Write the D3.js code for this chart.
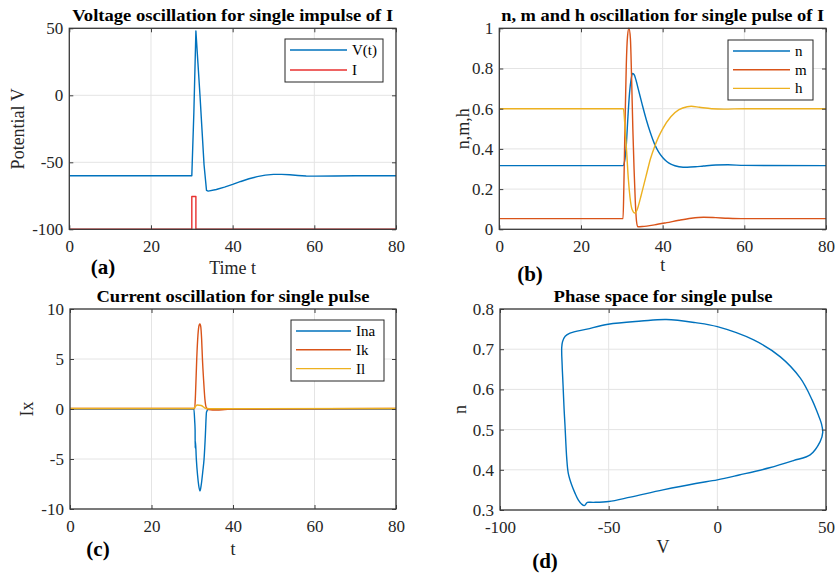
<!DOCTYPE html>
<html>
<head>
<meta charset="utf-8">
<script src="https://cdnjs.cloudflare.com/ajax/libs/d3/7.8.5/d3.min.js"></script>
<style>
  body { margin: 0; background: #fff; }
  svg { display: block; font-family: "Liberation Serif", "Times New Roman", serif; }
  svg text { font-family: "Liberation Serif", "Times New Roman", serif; }
  .grid line { stroke: #e4e4e4; stroke-width: 1; }
  .tick text { fill: #262626; }
  .tick line { stroke: #404040; }
</style>
</head>
<body>
<svg id="fig" width="837" height="574"></svg>
<script>
// ---- values ----

// (a) membrane potential and stimulus
const vTime = [0, 30, 30.5, 31.0, 31.5, 32.0, 32.5, 33.0, 33.6, 34, 36, 38, 40, 42, 44, 46, 48, 50, 52, 54, 56, 58, 60, 65, 70, 80];
const vPot  = [-60, -60, -13, 48, 24, 0, -26, -52, -71, -71.5, -70.3, -68.5, -66.5, -64.3, -62.3, -60.7, -59.6, -59, -59, -59.3, -59.8, -60.2, -60.3, -60.2, -60, -60];
const iTime = [0, 30, 30, 31, 31, 80];
const iStim = [-100, -100, -75.5, -75.5, -100, -100];

// (b) gating variables
const nTime = [0, 30.3, 30.7, 31.1, 31.5, 31.9, 32.3, 32.6, 33, 33.5, 34, 35, 36, 37, 38, 39, 40, 41, 42, 43, 44, 45, 46, 48, 50, 53, 56, 60, 80];
const nVal  = [0.317, 0.317, 0.34, 0.42, 0.56, 0.68, 0.75, 0.775, 0.77, 0.74, 0.70, 0.62, 0.545, 0.48, 0.425, 0.385, 0.357, 0.337, 0.324, 0.316, 0.311, 0.309, 0.309, 0.311, 0.315, 0.32, 0.321, 0.318, 0.317];
const mTime = [0, 30.3, 30.5, 30.8, 31.1, 31.4, 31.75, 32.1, 32.4, 32.7, 33.0, 33.3, 33.6, 33.9, 35, 38, 41, 44, 47, 50, 53, 56, 60, 80];
const mVal  = [0.053, 0.053, 0.21, 0.54, 0.82, 0.96, 1.0, 0.95, 0.75, 0.5, 0.3, 0.14, 0.04, 0.013, 0.014, 0.022, 0.033, 0.045, 0.055, 0.06, 0.058, 0.055, 0.053, 0.053];
const hTime = [0, 30.4, 30.8, 31.2, 31.6, 32.0, 32.5, 33.2, 33.8, 34.5, 35, 36, 37, 38, 39, 40, 42, 44, 46, 47, 49, 52, 55, 60, 80];
const hVal  = [0.6, 0.6, 0.5, 0.38, 0.25, 0.16, 0.1, 0.081, 0.1, 0.15, 0.19, 0.27, 0.35, 0.41, 0.46, 0.5, 0.56, 0.595, 0.61, 0.612, 0.607, 0.6, 0.598, 0.6, 0.6];

// (c) ionic currents
const inaTime = [0, 30.4, 30.6, 30.7, 30.72, 30.78, 31.0, 31.3, 31.6, 31.9, 32.2, 32.6, 32.9, 33.2, 33.5, 34, 80];
const inaVal  = [0, 0, -1.2, -2.1, -3.9, -3.2, -5.0, -6.6, -7.7, -8.2, -7.6, -6.2, -5.0, -2.8, -0.3, 0, 0];
const ikTime  = [0, 30.6, 30.8, 31.1, 31.4, 31.7, 31.9, 32.1, 32.3, 32.5, 32.8, 33.1, 33.5, 34, 36, 38, 40, 80];
const ikVal   = [0.05, 0.05, 1.5, 5, 7.4, 8.4, 8.5, 8.2, 7, 5, 2.8, 1, 0.1, -0.05, -0.1, -0.05, 0, 0.05];
const ilTime  = [0, 30.3, 31.2, 32.2, 33.4, 35, 80];
const ilVal   = [0.05, 0.05, 0.4, 0.35, 0.05, 0.03, 0.05];

// (d) phase portrait V vs n
const phV = [-60.2, -59.8, -57, -50, -40, -25, -10, 0, 10, 24, 35, 42.7, 47.3, 48.5, 47.9, 46.2, 43.6, 38.2, 29, 16.7, 0, -10, -23.5, -35, -50.2, -60, -67.8, -70, -71.2, -71.6, -71.4, -71, -70.5, -70.1, -69.3, -68.6, -67, -65.5, -64, -62.5, -61.2, -60.2];
const phN = [0.317, 0.319, 0.319, 0.321, 0.332, 0.35, 0.366, 0.375, 0.387, 0.405, 0.423, 0.437, 0.47, 0.493, 0.515, 0.54, 0.574, 0.628, 0.681, 0.723, 0.756, 0.766, 0.774, 0.77, 0.762, 0.75, 0.74, 0.732, 0.719, 0.704, 0.66, 0.612, 0.55, 0.511, 0.429, 0.392, 0.362, 0.342, 0.325, 0.315, 0.311, 0.317];

// tick values
const tTicks  = [0, 20, 40, 60, 80];
const vTicks  = [-100, -50, 0, 50];
const gTicks  = [0, 0.2, 0.4, 0.6, 0.8, 1];
const cTicks  = [-10, -5, 0, 5, 10];
const pvTicks = [-100, -50, 0, 50];
const pnTicks = [0.3, 0.4, 0.5, 0.6, 0.7, 0.8];

const BLUE = "#0072BD", ORANGE = "#D95319", YELLOW = "#EDB120", RED = "#E8312F";
const SERIF = '"Liberation Serif", "Times New Roman", serif';

const svg = d3.select("#fig");

function panel(o) {
  const g = svg.append("g");
  const x = d3.scaleLinear().domain(o.xDomain).range([o.left, o.right]);
  const y = d3.scaleLinear().domain(o.yDomain).range([o.bottom, o.top]);

  // grid
  const grid = g.append("g").attr("class", "grid");
  grid.selectAll("line.gx").data(o.xTicks).join("line").attr("class", "gx")
    .attr("x1", d => x(d)).attr("x2", d => x(d)).attr("y1", o.top).attr("y2", o.bottom);
  grid.selectAll("line.gy").data(o.yTicks).join("line").attr("class", "gy")
    .attr("y1", d => y(d)).attr("y2", d => y(d)).attr("x1", o.left).attr("x2", o.right);

  // series
  o.series.forEach(s => {
    g.append("path")
      .datum(d3.zip(s.xs, s.ys))
      .attr("fill", "none")
      .attr("stroke", s.color)
      .attr("stroke-width", 1.4)
      .attr("stroke-linejoin", "round")
      .attr("d", d3.line().x(d => x(d[0])).y(d => y(d[1])).curve(s.curve || d3.curveLinear));
  });

  // axes, ticks pointing inwards like MATLAB
  const fmt = d => String(d);
  const fixText = sel => {
    sel.attr("font-size", 17).attr("font-family", SERIF);
    sel.selectAll("text").attr("font-family", SERIF);
    sel.select(".domain").remove();
  };
  g.append("g").attr("transform", `translate(0,${o.bottom})`)
    .call(d3.axisBottom(x).tickValues(o.xTicks).tickSize(-4).tickPadding(11).tickFormat(fmt)).call(fixText);
  g.append("g").attr("transform", `translate(${o.left},0)`)
    .call(d3.axisLeft(y).tickValues(o.yTicks).tickSize(-4).tickPadding(6).tickFormat(fmt)).call(fixText);
  g.append("g").attr("transform", `translate(0,${o.top})`)
    .call(d3.axisTop(x).tickValues(o.xTicks).tickSize(-4).tickFormat("")).call(fixText);
  g.append("g").attr("transform", `translate(${o.right},0)`)
    .call(d3.axisRight(y).tickValues(o.yTicks).tickSize(-4).tickFormat("")).call(fixText);

  g.append("rect")
    .attr("x", o.left).attr("y", o.top)
    .attr("width", o.right - o.left).attr("height", o.bottom - o.top)
    .attr("fill", "none").attr("stroke", "#3a3a3a").attr("stroke-width", 1.3);

  // title (the source figure is slightly stretched sideways)
  g.append("text")
    .attr("x", (o.left + o.right) / 2).attr("y", o.top - 7.5)
    .attr("text-anchor", "middle").attr("font-weight", "bold").attr("font-size", 17)
    .attr("textLength", o.titleLen).attr("lengthAdjust", "spacingAndGlyphs")
    .attr("fill", "#000").text(o.title);

  // x label
  g.append("text")
    .attr("x", (o.left + o.right) / 2).attr("y", o.xLabelY)
    .attr("text-anchor", "middle").attr("font-size", 18).attr("fill", "#262626")
    .text(o.xLabel);

  // y label
  g.append("text")
    .attr("transform", `translate(${o.yLabelX},${(o.top + o.bottom) / 2}) rotate(-90)`)
    .attr("dy", "0.35em")
    .attr("text-anchor", "middle").attr("font-size", 18).attr("fill", "#262626")
    .text(o.yLabel);

  // panel letter
  g.append("text")
    .attr("x", o.letterX).attr("y", o.letterY)
    .attr("text-anchor", "middle").attr("font-weight", "bold").attr("font-size", 21)
    .attr("fill", "#000").text(o.letter);

  // legend
  if (o.legend) {
    const L = o.legend;
    const lg = g.append("g");
    lg.append("rect")
      .attr("x", L.x).attr("y", L.y).attr("width", L.w).attr("height", L.h)
      .attr("fill", "#fff").attr("stroke", "#262626").attr("stroke-width", 1);
    o.series.forEach((s, i) => {
      const ry = L.y + L.first + i * L.step;
      lg.append("line")
        .attr("x1", L.x + 5).attr("x2", L.x + 5 + L.lineLen)
        .attr("y1", ry).attr("y2", ry)
        .attr("stroke", s.color).attr("stroke-width", 1.4);
      lg.append("text")
        .attr("x", L.x + 10 + L.lineLen).attr("y", ry).attr("dy", "0.33em")
        .attr("font-size", 15).attr("fill", "#000").text(s.name);
    });
  }
}

panel({
  left: 69.3, right: 396, top: 28.3, bottom: 229.3,
  xDomain: [0, 80], yDomain: [-100, 50], xTicks: tTicks, yTicks: vTicks,
  title: "Voltage oscillation for single impulse of I", titleLen: 321,
  xLabel: "Time t", xLabelY: 274, yLabel: "Potential V", yLabelX: 18,
  letter: "(a)", letterX: 103, letterY: 274,
  series: [
    { name: "V(t)", xs: vTime, ys: vPot, color: BLUE },
    { name: "I", xs: iTime, ys: iStim, color: RED }
  ],
  legend: { x: 285, y: 39, w: 98, h: 43, first: 11, step: 20, lineLen: 57 }
});

panel({
  left: 499.3, right: 826, top: 28.3, bottom: 229.3,
  xDomain: [0, 80], yDomain: [0, 1], xTicks: tTicks, yTicks: gTicks,
  title: "n, m and h oscillation for single pulse of I", titleLen: 323,
  xLabel: "t", xLabelY: 271, yLabel: "n,m,h", yLabelX: 463,
  letter: "(b)", letterX: 530, letterY: 281,
  series: [
    { name: "n", xs: nTime, ys: nVal, color: BLUE, curve: d3.curveMonotoneX },
    { name: "m", xs: mTime, ys: mVal, color: ORANGE, curve: d3.curveMonotoneX },
    { name: "h", xs: hTime, ys: hVal, color: YELLOW, curve: d3.curveMonotoneX }
  ],
  legend: { x: 728, y: 40, w: 85, h: 60, first: 11, step: 18.7, lineLen: 57 }
});

panel({
  left: 70, right: 396, top: 309, bottom: 509,
  xDomain: [0, 80], yDomain: [-10, 10], xTicks: tTicks, yTicks: cTicks,
  title: "Current oscillation for single pulse", titleLen: 273,
  xLabel: "t", xLabelY: 555, yLabel: "Ix", yLabelX: 27,
  letter: "(c)", letterX: 98, letterY: 556,
  series: [
    { name: "Ina", xs: inaTime, ys: inaVal, color: BLUE, curve: d3.curveMonotoneX },
    { name: "Ik", xs: ikTime, ys: ikVal, color: ORANGE, curve: d3.curveMonotoneX },
    { name: "Il", xs: ilTime, ys: ilVal, color: YELLOW, curve: d3.curveMonotoneX }
  ],
  legend: { x: 291, y: 320, w: 93, h: 61, first: 11, step: 18.8, lineLen: 55 }
});

panel({
  left: 500, right: 826, top: 309, bottom: 510,
  xDomain: [-100, 50], yDomain: [0.3, 0.8], xTicks: pvTicks, yTicks: pnTicks,
  title: "Phase space for single pulse", titleLen: 219,
  xLabel: "V", xLabelY: 553, yLabel: "n", yLabelX: 460,
  letter: "(d)", letterX: 545, letterY: 568,
  series: [
    { name: "n", xs: phV, ys: phN, color: BLUE, curve: d3.curveCatmullRom.alpha(0.5) }
  ]
});
</script>
</body>
</html>
